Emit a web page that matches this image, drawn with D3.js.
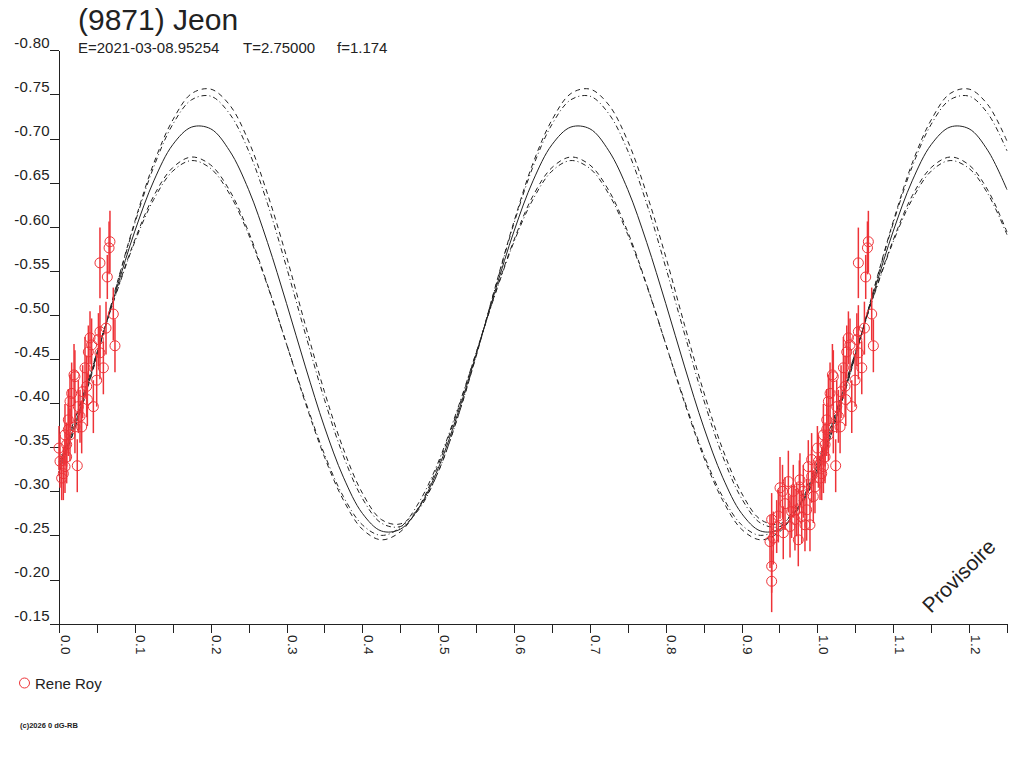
<!DOCTYPE html>
<html>
<head>
<meta charset="utf-8">
<script src="https://cdn.jsdelivr.net/npm/d3@7"></script>
<style>
  body { margin: 0; background: #fff; }
  svg { display: block; font-family: "Liberation Sans", Arial, sans-serif; }
  .axis path, .axis line { stroke: #222; shape-rendering: crispEdges; }
  .axis text { fill: #222; }
</style>
</head>
<body>
<svg id="chart" width="1024" height="768"></svg>
<script>
// ---- data ----
const title = '(9871) Jeon'
const subtitle = ['E=2021-03-08.95254', 'T=2.75000', 'f=1.174']
const observer = 'Rene Roy'

const yTicks = [-0.80, -0.75, -0.70, -0.65, -0.60, -0.55, -0.50, -0.45, -0.40, -0.35, -0.30, -0.25, -0.20, -0.15]
const xMajor = [0.0, 0.1, 0.2, 0.3, 0.4, 0.5, 0.6, 0.7, 0.8, 0.9, 1.0, 1.1, 1.2]
const xMinor = [0.0, 0.05, 0.1, 0.15, 0.2, 0.25, 0.3, 0.35, 0.4, 0.45, 0.5, 0.55, 0.6, 0.65, 0.7, 0.75,
                0.8, 0.85, 0.9, 0.95, 1.0, 1.05, 1.1, 1.15, 1.2, 1.25]

// phases where the fitted curves were read
const curvePhase = [0.000, 0.025, 0.050, 0.075, 0.100, 0.125, 0.150, 0.175, 0.200, 0.225,
                    0.250, 0.275, 0.300, 0.325, 0.350, 0.375, 0.400, 0.425, 0.450, 0.475,
                    0.500, 0.525, 0.550, 0.575, 0.600, 0.625, 0.650, 0.675, 0.700, 0.725,
                    0.750, 0.775, 0.800, 0.825, 0.850, 0.875, 0.900, 0.925, 0.950, 0.975,
                    1.000, 1.025, 1.050, 1.075, 1.100, 1.125, 1.150, 1.175, 1.200, 1.225, 1.250]
// solid fit
const fitMag = [-0.326, -0.386, -0.455, -0.527, -0.595, -0.652, -0.693, -0.713, -0.711, -0.686,
                -0.642, -0.582, -0.513, -0.441, -0.373, -0.316, -0.275, -0.255, -0.257, -0.282,
                -0.326, -0.386, -0.455, -0.527, -0.595, -0.652, -0.693, -0.713, -0.711, -0.686,
                -0.642, -0.582, -0.513, -0.441, -0.373, -0.316, -0.275, -0.255, -0.257, -0.282,
                -0.326, -0.386, -0.455, -0.527, -0.595, -0.652, -0.693, -0.713, -0.711, -0.686, -0.642]
// upper envelope (highest maximum), dashed
const upperDash = [-0.322, -0.382, -0.453, -0.531, -0.606, -0.672, -0.721, -0.751, -0.756, -0.738,
                   -0.697, -0.637, -0.566, -0.488, -0.413, -0.348, -0.298, -0.268, -0.263, -0.282,
                   -0.322, -0.382, -0.453, -0.531, -0.606, -0.672, -0.721, -0.751, -0.756, -0.738,
                   -0.697, -0.637, -0.566, -0.488, -0.413, -0.348, -0.298, -0.268, -0.263, -0.282,
                   -0.322, -0.382, -0.453, -0.531, -0.606, -0.672, -0.721, -0.751, -0.756, -0.738, -0.697]
// upper envelope, dash-dot
const upperDot = [-0.322, -0.382, -0.454, -0.530, -0.604, -0.668, -0.716, -0.744, -0.748, -0.728,
                  -0.686, -0.626, -0.554, -0.478, -0.404, -0.340, -0.292, -0.264, -0.260, -0.280,
                  -0.322, -0.382, -0.454, -0.530, -0.604, -0.668, -0.716, -0.744, -0.748, -0.728,
                  -0.686, -0.626, -0.554, -0.478, -0.404, -0.340, -0.292, -0.264, -0.260, -0.280,
                  -0.322, -0.382, -0.454, -0.530, -0.604, -0.668, -0.716, -0.744, -0.748, -0.728, -0.686]
// lower envelope (lowest maximum), dashed
const lowerDash = [-0.330, -0.390, -0.457, -0.524, -0.585, -0.635, -0.667, -0.679, -0.670, -0.641,
                   -0.594, -0.534, -0.467, -0.400, -0.339, -0.290, -0.257, -0.245, -0.254, -0.283,
                   -0.330, -0.390, -0.457, -0.524, -0.585, -0.635, -0.667, -0.679, -0.670, -0.641,
                   -0.594, -0.534, -0.467, -0.400, -0.339, -0.290, -0.257, -0.245, -0.254, -0.283,
                   -0.330, -0.390, -0.457, -0.524, -0.585, -0.635, -0.667, -0.679, -0.670, -0.641, -0.594]
// lower envelope, dash-dot
const lowerDot = [-0.333, -0.392, -0.457, -0.523, -0.583, -0.631, -0.663, -0.675, -0.666, -0.637,
                  -0.591, -0.533, -0.467, -0.402, -0.342, -0.294, -0.262, -0.250, -0.259, -0.288,
                  -0.333, -0.392, -0.457, -0.523, -0.583, -0.631, -0.663, -0.675, -0.666, -0.637,
                  -0.591, -0.533, -0.467, -0.402, -0.342, -0.294, -0.262, -0.250, -0.259, -0.288,
                  -0.333, -0.392, -0.457, -0.523, -0.583, -0.631, -0.663, -0.675, -0.666, -0.637, -0.591]

// observations (phase, relative mag, error)
const obsPhase = [0.0000, 0.0013, 0.0035, 0.0057, 0.0079, 0.0079, 0.0101, 0.0101, 0.0123, 0.0123,
                  0.0145, 0.0145, 0.0167, 0.0198, 0.0210, 0.0210, 0.0241, 0.0255, 0.0277, 0.0299,
                  0.0312, 0.0343, 0.0365, 0.0374, 0.0387, 0.0409, 0.0430, 0.0453, 0.0497, 0.0520,
                  0.0540, 0.0540, 0.0540, 0.0585, 0.0620, 0.0637, 0.0660, 0.0672, 0.0716, 0.0738,
                  0.9397, 0.9397, 0.9375, 0.9419, 0.9397, 0.9463, 0.9485, 0.9507, 0.9540, 0.9550,
                  0.9573, 0.9617, 0.9639, 0.9660, 0.9682, 0.9704, 0.9727, 0.9748, 0.9762, 0.9770,
                  0.9793, 0.9814, 0.9836, 0.9858, 0.9880, 0.9902, 0.9924, 0.9924, 0.9946, 0.9968]
const obsMag = [-0.349, -0.334, -0.315, -0.320, -0.328, -0.364, -0.339, -0.353, -0.370, -0.381,
                -0.364, -0.402, -0.411, -0.432, -0.430, -0.373, -0.329, -0.396, -0.385, -0.373,
                -0.413, -0.440, -0.419, -0.404, -0.458, -0.474, -0.466, -0.396, -0.426, -0.472,
                -0.481, -0.457, -0.559, -0.440, -0.485, -0.543, -0.576, -0.583, -0.501, -0.465,
                -0.198, -0.215, -0.243, -0.247, -0.268, -0.260, -0.272, -0.304, -0.300, -0.253,
                -0.286, -0.311, -0.260, -0.277, -0.300, -0.268, -0.279, -0.245, -0.305, -0.313,
                -0.271, -0.300, -0.262, -0.279, -0.328, -0.262, -0.336, -0.317, -0.294, -0.305]
const obsErr = [0.025, 0.030, 0.025, 0.030, 0.030, 0.035, 0.030, 0.025, 0.030, 0.035,
                0.030, 0.030, 0.035, 0.035, 0.030, 0.030, 0.030, 0.030, 0.030, 0.030,
                0.030, 0.035, 0.035, 0.030, 0.030, 0.030, 0.030, 0.030, 0.030, 0.030,
                0.030, 0.030, 0.040, 0.030, 0.030, 0.025, 0.030, 0.035, 0.030, 0.030,
                0.035, 0.030, 0.030, 0.030, 0.030, 0.030, 0.030, 0.035, 0.030, 0.030,
                0.030, 0.035, 0.035, 0.030, 0.030, 0.035, 0.030, 0.030, 0.030, 0.030,
                0.030, 0.030, 0.030, 0.035, 0.030, 0.030, 0.030, 0.030, 0.030, 0.030]

const red = '#ee3338'
const ink = '#222'

let svg = d3.select('#chart')
svg.append('rect').attr('width', 1024).attr('height', 768).attr('fill', '#fff')

let xScale = d3.scaleLinear().domain([0, 1.25]).range([59, 1007])
let yScale = d3.scaleLinear().domain([-0.80, -0.15]).range([50.3, 623.6])

// observations are repeated one cycle later when they still fit on the axis
let points = []
obsPhase.forEach(function (p, i) {
    points.push({ p: p, m: obsMag[i], e: obsErr[i] })
    if (p + 1 <= 1.25) points.push({ p: p + 1, m: obsMag[i], e: obsErr[i] })
})

//y axis
let yAxis = d3.axisLeft(yScale)
    .tickValues(yTicks)
    .tickSize(9)
    .tickSizeOuter(0)
    .tickPadding(0)
    .tickFormat(d => d.toFixed(2))
let gy = svg.append('g')
    .attr('class', 'axis')
    .attr('transform', `translate(${59}, 0)`)
    .call(yAxis)
gy.selectAll('text')
    .attr('dy', '-0.18em')
    .style('font-size', '15px')
    .style('letter-spacing', '0.3px')

//x axis
let xAxis = d3.axisBottom(xScale)
    .tickValues(xMinor)
    .tickSize(9)
    .tickSizeOuter(0)
    .tickFormat('')
svg.append('g')
    .attr('class', 'axis')
    .attr('transform', `translate(0, ${623.6})`)
    .call(xAxis)
svg.append('g').selectAll('text')
    .data(xMajor)
    .enter()
    .append('text')
    .attr('transform', d => `translate(${xScale(d) + 1.5}, ${635}) rotate(90)`)
    .style('font-size', '13.5px')
    .style('letter-spacing', '0.4px')
    .attr('fill', ink)
    .text(d => d.toFixed(1))

//fitted curves
function curveLine(values) {
    return d3.line()
        .x((d, i) => xScale(curvePhase[i]))
        .y(d => yScale(d))
        .curve(d3.curveCatmullRom.alpha(0.5))(values)
}
let curves = [
    { v: upperDash, dash: '5,4' },
    { v: upperDot, dash: '5,3,1,3' },
    { v: lowerDash, dash: '5,4' },
    { v: lowerDot, dash: '5,3,1,3' },
    { v: fitMag, dash: null }
]
svg.append('g').selectAll('path')
    .data(curves)
    .enter()
    .append('path')
    .attr('d', d => curveLine(d.v))
    .attr('fill', 'none')
    .attr('stroke', ink)
    .attr('stroke-width', 1)
    .attr('stroke-dasharray', d => d.dash)

//observations with error bars
let obs = svg.append('g')
obs.selectAll('line')
    .data(points)
    .enter()
    .append('line')
    .attr('x1', d => xScale(d.p))
    .attr('x2', d => xScale(d.p))
    .attr('y1', d => yScale(d.m - d.e))
    .attr('y2', d => yScale(d.m + d.e))
    .attr('stroke', red)
    .attr('stroke-width', 1.5)
obs.selectAll('circle')
    .data(points)
    .enter()
    .append('circle')
    .attr('cx', d => xScale(d.p))
    .attr('cy', d => yScale(d.m))
    .attr('r', 5)
    .attr('fill', 'none')
    .attr('stroke', red)
    .attr('stroke-width', 1)

//title
svg.append('text')
    .attr('x', 78)
    .attr('y', 30)
    .style('font-size', '30px')
    .attr('fill', ink)
    .text(title)
let subX = [78, 243, 337]
svg.append('g').selectAll('text')
    .data(subtitle)
    .enter()
    .append('text')
    .attr('x', (d, i) => subX[i])
    .attr('y', 53)
    .style('font-size', '15px')
    .attr('fill', ink)
    .text(d => d)

//watermark
svg.append('text')
    .attr('transform', `translate(${964}, ${581}) rotate(-45)`)
    .attr('text-anchor', 'middle')
    .style('font-size', '21px')
    .attr('fill', ink)
    .text('Provisoire')

//legend
svg.append('circle')
    .attr('cx', 24.5)
    .attr('cy', 683)
    .attr('r', 5)
    .attr('fill', 'none')
    .attr('stroke', red)
svg.append('text')
    .attr('x', 35)
    .attr('y', 689)
    .style('font-size', '15px')
    .attr('fill', ink)
    .text(observer)

svg.append('text')
    .attr('x', 20)
    .attr('y', 728)
    .style('font-size', '7.5px')
    .style('font-weight', 'bold')
    .attr('fill', ink)
    .text('(c)2026 0 dG-RB')
</script>
</body>
</html>
